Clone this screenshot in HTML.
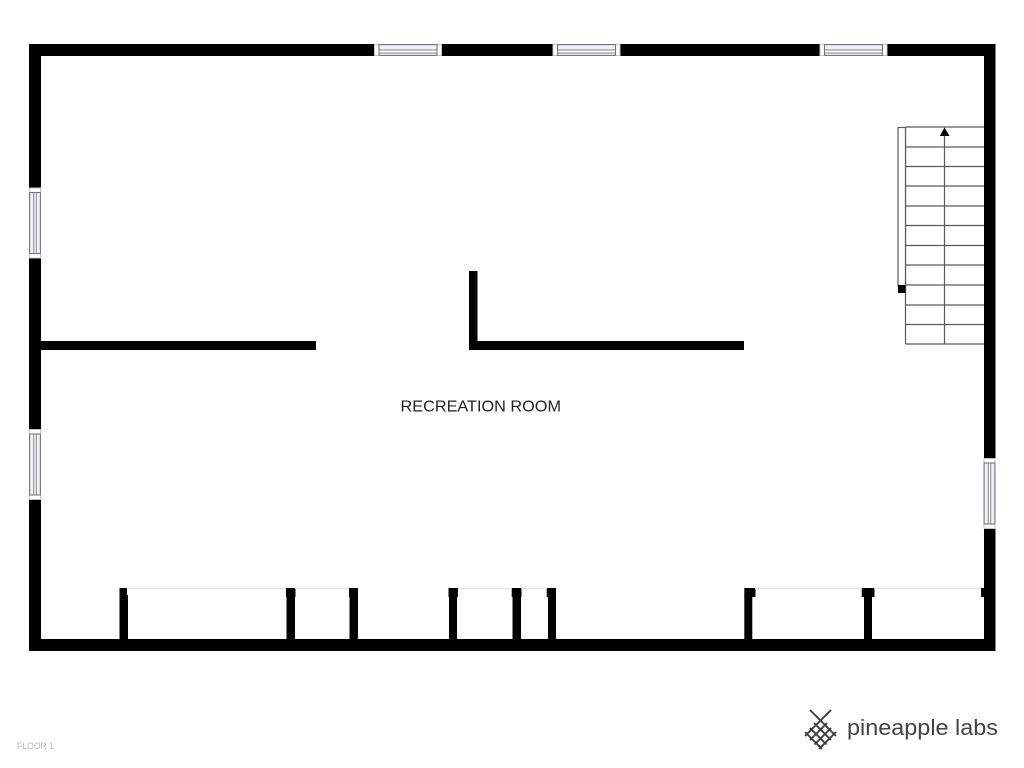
<!DOCTYPE html>
<html>
<head>
<meta charset="utf-8">
<style>
html,body{margin:0;padding:0;background:#fff;width:1024px;height:768px;overflow:hidden}
svg{display:block}
text{font-family:"Liberation Sans",sans-serif}
</style>
</head>
<body>
<svg width="1024" height="768" viewBox="0 0 1024 768" xmlns="http://www.w3.org/2000/svg">
<defs>
<g id="wh">
  <rect x="0" y="0" width="68" height="12" fill="#fff"/>
  <rect x="0.5" y="0.5" width="67" height="11" fill="none" stroke="#c4c4c4" stroke-width="1"/>
  <rect x="5" y="0.6" width="58" height="10.800" fill="#f0f0f9" stroke="#777" stroke-width="1.100"/>
  <rect x="5" y="6" width="58" height="3" fill="#fff" stroke="#777" stroke-width="0.900"/>
</g>
<g id="wv">
  <rect x="0" y="0" width="12" height="71" fill="#fff"/>
  <rect x="0.5" y="0.5" width="11" height="70" fill="none" stroke="#c4c4c4" stroke-width="1"/>
  <rect x="0.6" y="5" width="10.800" height="61" fill="#f0f0f9" stroke="#777" stroke-width="1.100"/>
  <rect x="4.800" y="5" width="2.400" height="61" fill="#fff" stroke="#777" stroke-width="0.900"/>
</g>
</defs>

<!-- Outer walls -->
<path fill="#000" fill-rule="evenodd" d="M29 44H995.5V651H29Z M41 56V639H984V56Z"/>

<!-- Interior walls -->
<rect x="41" y="341" width="275" height="9" fill="#000"/>
<rect x="469" y="271" width="8.500" height="79" fill="#000"/>
<rect x="469" y="341" width="275" height="9" fill="#000"/>

<!-- Bottom stubs -->
<g fill="#000">
  <rect x="119.500" y="588" width="7.500" height="9"/><rect x="119.500" y="595" width="8.500" height="44"/>
  <rect x="286" y="588" width="9.500" height="9"/><rect x="286.500" y="595" width="8.500" height="44"/>
  <rect x="349" y="588" width="9" height="9"/><rect x="349.500" y="595" width="8.500" height="44"/>
  <rect x="448.500" y="588" width="9.500" height="9"/><rect x="449" y="595" width="8" height="44"/>
  <rect x="511.700" y="588" width="9.800" height="9"/><rect x="512.500" y="595" width="8.500" height="44"/>
  <rect x="546.700" y="588" width="9.300" height="9"/><rect x="548" y="595" width="8" height="44"/>
  <rect x="744.300" y="588" width="11.200" height="9"/><rect x="744.300" y="595" width="8" height="44"/>
  <rect x="861.700" y="588" width="12.800" height="9"/><rect x="864" y="595" width="8" height="44"/>
  <rect x="981" y="588" width="3" height="9"/>
</g>
<g stroke="#e2e2e2" stroke-width="1">
  <line x1="128" y1="588.500" x2="286" y2="588.500"/>
  <line x1="295" y1="588.500" x2="349" y2="588.500"/>
  <line x1="458" y1="588.500" x2="512" y2="588.500"/>
  <line x1="521" y1="588.500" x2="547" y2="588.500"/>
  <line x1="755" y1="588.500" x2="862" y2="588.500"/>
  <line x1="874" y1="588.500" x2="981" y2="588.500"/>
</g>

<!-- Windows -->
<use href="#wh" x="374" y="44"/>
<use href="#wh" x="552.500" y="44"/>
<use href="#wh" x="819.500" y="44"/>
<use href="#wv" x="29" y="187.500"/>
<use href="#wv" x="29" y="429"/>
<use href="#wv" x="983.500" y="458"/>

<!-- Stairs -->
<g stroke="#5a5a5a" stroke-width="1.200" fill="none">
  <path d="M905.500 127H984M905.500 147H984M905.500 166.500H984M905.500 186H984M905.500 206H984M905.500 225.500H984M905.500 245.500H984M905.500 265H984M905.500 285H984M905.500 305H984M905.500 324.500H984M905.500 344H984"/>
  <line x1="905.500" y1="127" x2="905.500" y2="344"/>
  <line x1="944.500" y1="133" x2="944.500" y2="344"/>
  <rect x="898" y="127.500" width="7.500" height="158" fill="#fff"/>
</g>
<polygon points="944.500,127.500 949.500,136 939.800,136" fill="#000"/>
<rect x="898" y="285" width="7.500" height="8" fill="#000"/>

<!-- Labels -->
<text x="400.500" y="411.500" font-size="16" fill="#222" textLength="160.500" lengthAdjust="spacingAndGlyphs">RECREATION ROOM</text>
<text x="17" y="749" font-size="9" fill="#b8b8b8" textLength="37" lengthAdjust="spacingAndGlyphs">FLOOR 1</text>

<!-- Logo -->
<g stroke="#3d3d3d" stroke-width="1.900" fill="none">
  <path d="M810 710L836 736M814 723L831 740M810 728L826.500 744.500M805 732L822 749"/>
  <path d="M831 710L805 736M827 723L810 740M831 728L814.500 744.500M836 732L819 749"/>
</g>
<text x="847" y="735" font-size="22" fill="#444" textLength="151" lengthAdjust="spacingAndGlyphs">pineapple labs</text>
</svg>
</body>
</html>
